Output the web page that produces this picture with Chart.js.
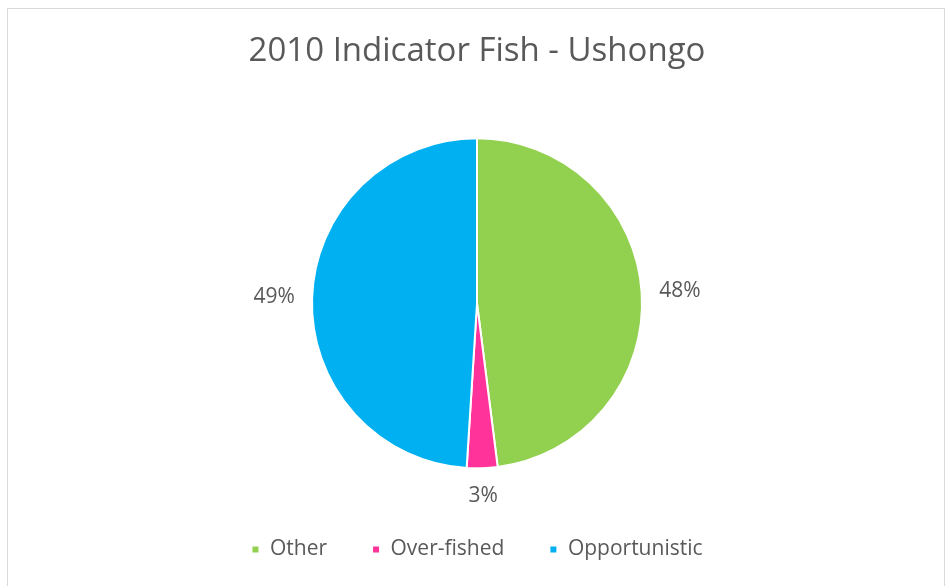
<!DOCTYPE html>
<html>
<head>
<meta charset="utf-8">
<script src="https://cdn.jsdelivr.net/npm/chart.js@4/dist/chart.umd.min.js"></script>
<style>
  html, body { margin: 0; padding: 0; background: #fff; }
  #wrap { position: relative; width: 948px; height: 586px; }
  #frame { position: absolute; left: 7px; top: 8px; width: 938px; height: 600px; border: 1px solid #d9d9d9; box-sizing: border-box; }
  canvas { position: absolute; left: 0; top: 0; }
</style>
</head>
<body>
<div id="wrap">
  <div id="frame"></div>
  <canvas id="pie" width="948" height="586"></canvas>
</div>
<script>
const title = '2010 Indicator Fish - Ushongo';
const categories = ['Other', 'Over-fished', 'Opportunistic'];
const shares = [48, 3, 49];
const colours = ['#92D050', '#FF3399', '#00B0F0'];

const FONT = '"Open Sans", sans-serif';
const GREY = '#595959';
const LABEL_SIZE = 21;

// percent labels just outside each slice
const outerLabels = {
    id: 'outerLabels',
    afterDatasetsDraw(chart) {
        const ctx = chart.ctx;
        const meta = chart.getDatasetMeta(0);
        const total = shares.reduce((a, b) => a + b, 0);
        ctx.save();
        ctx.font = LABEL_SIZE + 'px ' + FONT;
        ctx.fillStyle = GREY;
        ctx.textAlign = 'center';
        ctx.textBaseline = 'middle';
        meta.data.forEach((arc, i) => {
            const p = arc.getProps(['x', 'y', 'startAngle', 'endAngle', 'outerRadius'], true);
            const mid = (p.startAngle + p.endAngle) / 2;
            const txt = Math.round(shares[i] / total * 100) + '%';
            const w = ctx.measureText(txt).width;
            const c = Math.cos(mid), s = Math.sin(mid);
            const r = p.outerRadius + 17 + Math.abs(c) * w / 2 + Math.abs(s) * LABEL_SIZE / 2;
            ctx.fillText(txt, p.x + c * r, p.y + s * r);
        });
        ctx.restore();
    }
};

Chart.defaults.font.family = FONT;
Chart.defaults.color = GREY;

new Chart(document.getElementById('pie').getContext('2d'), {
    type: 'pie',
    data: {
        labels: categories,
        datasets: [{
            data: shares,
            backgroundColor: colours,
            borderColor: '#fff',
            borderWidth: 2,
            radius: 165
        }]
    },
    options: {
        responsive: false,
        animation: false,
        layout: { padding: { left: 6, right: 0, top: 0, bottom: 16 } },
        plugins: {
            title: {
                display: true,
                text: title,
                color: GREY,
                font: { size: 33, weight: 'normal', family: FONT },
                padding: { top: 32, bottom: 41 }
            },
            legend: {
                position: 'bottom',
                labels: {
                    color: GREY,
                    font: { size: 21, family: FONT },
                    boxWidth: 8,
                    boxHeight: 8,
                    padding: 45
                }
            },
            tooltip: { enabled: false }
        }
    },
    plugins: [outerLabels]
});
</script>
</body>
</html>
